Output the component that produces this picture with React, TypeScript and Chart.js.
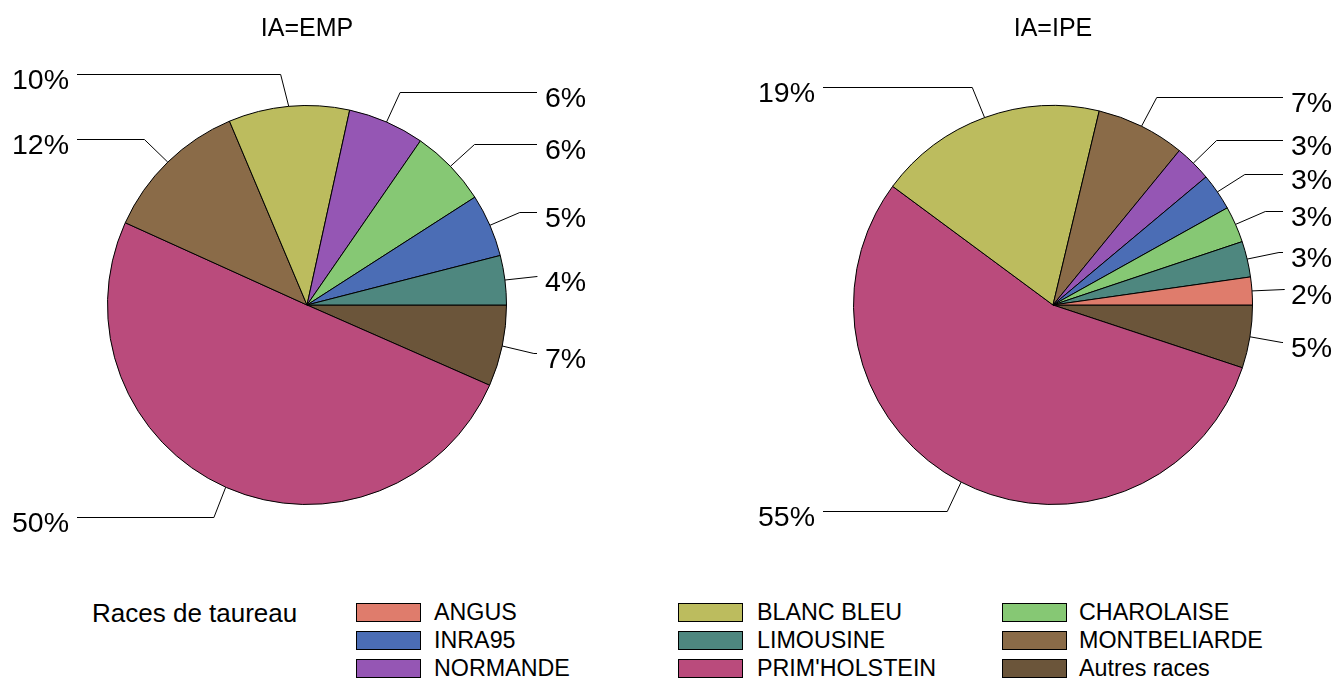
import React, { useEffect, useRef } from "react";
import { Chart, registerables } from "chart.js";

Chart.register(...registerables);

// ---------- data ----------
const legendTitle = "Races de taureau";
const breeds = [
  "ANGUS",
  "BLANC BLEU",
  "CHAROLAISE",
  "INRA95",
  "LIMOUSINE",
  "MONTBELIARDE",
  "NORMANDE",
  "PRIM'HOLSTEIN",
  "Autres races",
];
const breedColors = [
  "#DF7C6C",
  "#BCBC5E",
  "#86C874",
  "#4B6DB5",
  "#4E877F",
  "#8A6B48",
  "#9556B4",
  "#BA4B7C",
  "#6B553A",
];

const empTitle = "IA=EMP";
const empLabels = [
  "Autres races",
  "PRIM'HOLSTEIN",
  "MONTBELIARDE",
  "BLANC BLEU",
  "NORMANDE",
  "CHAROLAISE",
  "INRA95",
  "LIMOUSINE",
];
const empValues = [6.6, 50.25, 11.9, 9.8, 6.2, 6.3, 5.1, 4.0];

const ipeTitle = "IA=IPE";
const ipeLabels = [
  "Autres races",
  "PRIM'HOLSTEIN",
  "BLANC BLEU",
  "MONTBELIARDE",
  "NORMANDE",
  "INRA95",
  "CHAROLAISE",
  "LIMOUSINE",
  "ANGUS",
];
const ipeValues = [5.1, 55.1, 18.6, 7.2, 3.0, 3.0, 2.95, 2.9, 2.25];

// ---------- layout / style ----------
const W = 1336;
const H = 590;
const FONT = '"Liberation Sans", Arial, Helvetica, sans-serif';
const RADIUS = 200;
const CENTER_Y = 305;
const KNEE_R = 232;
const LINE_END = 230;
const TEXT_X = 238;
const MIN_GAP = 26;

const colorOf = (name: string) => breedColors[breeds.indexOf(name)];

const calloutPlugin = {
  id: "pieCallouts",
  afterDatasetsDraw(chart: any, _args: any, opts: any) {
    const ctx = chart.ctx as CanvasRenderingContext2D;
    const meta = chart.getDatasetMeta(0);
    const values = chart.data.datasets[0].data as number[];
    const total = values.reduce((a, b) => a + b, 0);
    const items = meta.data.map((arc: any, i: number) => {
      const p = arc.getProps(["x", "y", "startAngle", "endAngle", "outerRadius"], true);
      const mid = (p.startAngle + p.endAngle) / 2;
      const right = Math.cos(mid) >= 0;
      return {
        x: p.x,
        y: p.y,
        r: p.outerRadius,
        mid,
        right,
        ly: p.y + KNEE_R * Math.sin(mid),
        text: Math.round((values[i] / total) * 100) + "%",
      };
    });
    for (const side of [true, false]) {
      const s = items.filter((it: any) => it.right === side).sort((a: any, b: any) => a.ly - b.ly);
      for (let k = 1; k < s.length; k++) {
        if (s[k].ly - s[k - 1].ly < MIN_GAP) s[k].ly = s[k - 1].ly + MIN_GAP;
      }
    }
    ctx.save();
    ctx.strokeStyle = "#000";
    ctx.lineWidth = 1;
    ctx.fillStyle = "#000";
    ctx.font = `28.5px ${FONT}`;
    for (const it of items) {
      const dir = it.right ? 1 : -1;
      const ly = Math.round(it.ly) + 0.5;
      const ex = it.x + it.r * Math.cos(it.mid);
      const ey = it.y + it.r * Math.sin(it.mid);
      const dy = ly - it.y;
      const kx = Math.abs(dy) < KNEE_R ? it.x + dir * Math.sqrt(KNEE_R * KNEE_R - dy * dy) : ex;
      const lx = it.x + dir * LINE_END;
      ctx.beginPath();
      ctx.moveTo(ex, ey);
      ctx.lineTo(kx, ly);
      ctx.lineTo(lx, ly);
      ctx.stroke();
      ctx.textAlign = it.right ? "left" : "right";
      ctx.textBaseline = "alphabetic";
      ctx.fillText(it.text, it.x + dir * TEXT_X, ly + 14.5);
    }
    // panel title
    const ca = chart.chartArea;
    ctx.font = `25px ${FONT}`;
    ctx.textAlign = "center";
    ctx.fillText(opts.title, (ca.left + ca.right) / 2, 36);
    ctx.restore();
  },
};

function makeChart(canvas: HTMLCanvasElement, title: string, labels: string[], values: number[], cx: number) {
  return new Chart(canvas, {
    type: "pie",
    data: {
      labels,
      datasets: [
        {
          data: values,
          backgroundColor: labels.map(colorOf),
          borderColor: "#000",
          borderWidth: 1,
        },
      ],
    },
    options: {
      responsive: false,
      animation: false,
      events: [],
      rotation: 90,
      layout: {
        padding: {
          left: cx - RADIUS,
          right: W - cx - RADIUS,
          top: CENTER_Y - RADIUS,
          bottom: H - CENTER_Y - RADIUS,
        },
      },
      plugins: {
        legend: { display: false },
        tooltip: { enabled: false },
        title: { display: false },
        pieCallouts: { title },
      } as any,
    },
    plugins: [calloutPlugin as any],
  });
}

const legendCols = [356, 678, 1002];
const legendTextCols = [434, 757, 1079];
const legendRows = [603, 631, 659];

export default function App() {
  const leftRef = useRef<HTMLCanvasElement | null>(null);
  const rightRef = useRef<HTMLCanvasElement | null>(null);

  useEffect(() => {
    const c1 = makeChart(leftRef.current!, empTitle, empLabels, empValues, 307);
    const c2 = makeChart(rightRef.current!, ipeTitle, ipeLabels, ipeValues, 1053);
    return () => {
      c1.destroy();
      c2.destroy();
    };
  }, []);

  const entryFont = 23.3;
  const titleFont = 26;

  return (
    <div
      style={{
        position: "absolute",
        left: 0,
        top: 0,
        width: W,
        height: 680,
        background: "#fff",
        overflow: "hidden",
        fontFamily: FONT,
        color: "#000",
      }}
    >
      <canvas ref={leftRef} width={W} height={H} style={{ position: "absolute", left: 0, top: 0, width: W, height: H }} />
      <canvas ref={rightRef} width={W} height={H} style={{ position: "absolute", left: 0, top: 0, width: W, height: H }} />
      <div
        style={{
          position: "absolute",
          left: 92,
          top: 622 - 0.8465 * titleFont,
          fontSize: titleFont,
          lineHeight: 1,
          whiteSpace: "nowrap",
        }}
      >
        {legendTitle}
      </div>
      {breeds.map((b, i) => {
        const col = i % 3;
        const row = Math.floor(i / 3);
        const top = legendRows[row];
        const baseline = top + 9.5 + 8.5;
        return (
          <React.Fragment key={b}>
            <div
              style={{
                position: "absolute",
                left: legendCols[col],
                top,
                width: 65,
                height: 19,
                boxSizing: "border-box",
                border: "1px solid #000",
                background: breedColors[i],
              }}
            />
            <div
              style={{
                position: "absolute",
                left: legendTextCols[col],
                top: baseline - 0.8465 * entryFont,
                fontSize: entryFont,
                lineHeight: 1,
                whiteSpace: "nowrap",
              }}
            >
              {b}
            </div>
          </React.Fragment>
        );
      })}
    </div>
  );
}
